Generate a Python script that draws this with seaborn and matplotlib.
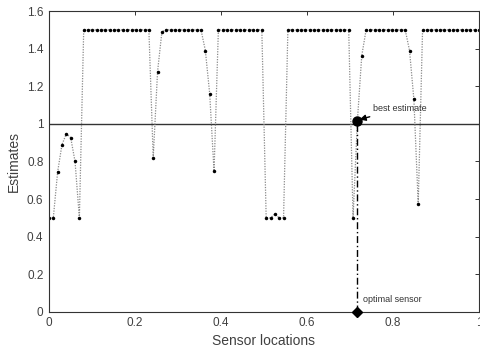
import numpy as np
import pandas as pd
import matplotlib
matplotlib.use("Agg")
import matplotlib.pyplot as plt
import seaborn as sns

# Estimates computed at each of the 100 candidate sensor locations
estimates = [
    0.50, 0.50, 0.745, 0.89, 0.947, 0.927, 0.80, 0.50,
    1.50, 1.50, 1.50, 1.50, 1.50, 1.50, 1.50, 1.50,
    1.50, 1.50, 1.50, 1.50, 1.50, 1.50, 1.50, 1.50,
    0.82, 1.278, 1.49,
    1.50, 1.50, 1.50, 1.50, 1.50, 1.50, 1.50, 1.50, 1.50,
    1.39, 1.16, 0.748,
    1.50, 1.50, 1.50, 1.50, 1.50, 1.50, 1.50, 1.50, 1.50, 1.50, 1.50,
    0.50, 0.50, 0.52, 0.50, 0.50,
    1.50, 1.50, 1.50, 1.50, 1.50, 1.50, 1.50, 1.50,
    1.50, 1.50, 1.50, 1.50, 1.50, 1.50, 1.50,
    0.50, 1.017, 1.362,
    1.50, 1.50, 1.50, 1.50, 1.50, 1.50, 1.50, 1.50, 1.50, 1.50,
    1.39, 1.13, 0.573,
    1.50, 1.50, 1.50, 1.50, 1.50, 1.50, 1.50,
    1.50, 1.50, 1.50, 1.50, 1.50, 1.50, 1.50,
]
sensor_locations = np.linspace(0, 1, len(estimates))
true_value = 1.0
best_index = 71

x_ticks = [0, 0.2, 0.4, 0.6, 0.8, 1]
x_tick_labels = ["0", "0.2", "0.4", "0.6", "0.8", "1"]
y_ticks = [0, 0.2, 0.4, 0.6, 0.8, 1, 1.2, 1.4, 1.6]
y_tick_labels = ["0", "0.2", "0.4", "0.6", "0.8", "1", "1.2", "1.4", "1.6"]

df = pd.DataFrame({"location": sensor_locations, "estimate": estimates})
best_x = sensor_locations[best_index]
best_y = estimates[best_index]

sns.set_theme(style="white")
plt.rcParams["font.family"] = ["Liberation Sans", "DejaVu Sans"]
text_color = "#404040"

fig = plt.figure(figsize=(4.8, 3.56), dpi=100)
ax = fig.add_axes([0.102, 0.124, 0.896, 0.845])

sns.lineplot(data=df, x="location", y="estimate", ax=ax, color="#8a8a8a",
             linestyle=(0, (1, 1.1)), linewidth=0.9, marker="o",
             markersize=2.5, markerfacecolor="black", markeredgecolor="black",
             markeredgewidth=0)

ax.axhline(true_value, color="#333333", linewidth=1.0, zorder=1)

# Optimal sensor: vertical dash-dot line from the axis to the best estimate
ax.plot([best_x, best_x], [0, best_y], color="black",
        linestyle=(0, (5, 2, 1, 2)), linewidth=1.0, zorder=3)
ax.plot([best_x], [best_y], marker="o", markersize=6.5, color="black",
        zorder=4, clip_on=False)
ax.plot([best_x], [0], marker="D", markersize=5.5, color="black",
        zorder=5, clip_on=False)

ax.annotate("best estimate", xy=(best_x + 0.005, best_y + 0.006),
            xytext=(best_x + 0.036, best_y + 0.064),
            fontsize=6.5, color="#333333", va="center", ha="left",
            arrowprops=dict(arrowstyle="-|>", color="black", lw=1.0,
                            mutation_scale=9, shrinkA=1, shrinkB=0))
ax.text(best_x + 0.014, 0.068, "optimal sensor", fontsize=6.5,
        color="#333333", va="center", ha="left")

ax.set_xlim(0, 1)
ax.set_ylim(0, 1.6)
ax.set_xticks(x_ticks)
ax.set_xticklabels(x_tick_labels)
ax.set_yticks(y_ticks)
ax.set_yticklabels(y_tick_labels)
ax.tick_params(direction="in", length=3, width=0.7, colors="#333333",
               labelcolor=text_color, labelsize=8.5, top=True, right=True,
               pad=4)
for spine in ax.spines.values():
    spine.set_color("#333333")
    spine.set_linewidth(0.8)
    spine.set_visible(True)

ax.set_xlabel("Sensor locations", fontsize=10, color=text_color, labelpad=3)
ax.set_ylabel("Estimates", fontsize=10, color=text_color, labelpad=4)

fig.savefig("out.png", dpi=100)
